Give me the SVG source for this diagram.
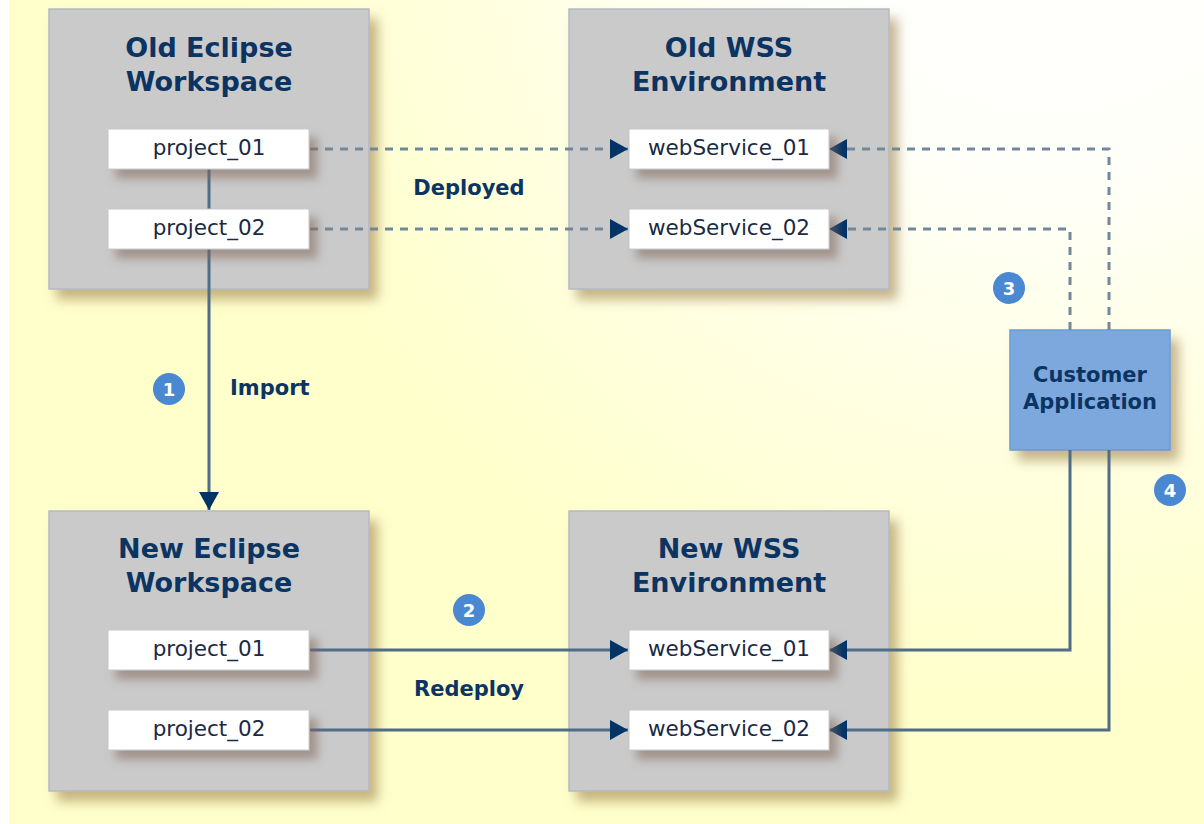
<svg xmlns="http://www.w3.org/2000/svg" width="1204" height="824" viewBox="0 0 1204 824">
<defs>
<radialGradient id="bg" gradientUnits="userSpaceOnUse" cx="1050" cy="-120" r="820">
<stop offset="0" stop-color="#ffffff"/>
<stop offset="0.35" stop-color="#fffffa"/>
<stop offset="0.7" stop-color="#ffffe0"/>
<stop offset="1" stop-color="#ffffcc"/>
</radialGradient>
<filter id="sh" x="-10%" y="-10%" width="130%" height="130%">
<feDropShadow dx="8" dy="10" stdDeviation="6" flood-color="#a08450" flood-opacity="0.6"/>
</filter>
<filter id="shs" x="-20%" y="-30%" width="150%" height="190%">
<feDropShadow dx="8" dy="9" stdDeviation="5" flood-color="#806858" flood-opacity="0.55"/>
</filter>
<marker id="ah" viewBox="0 0 18 20" refX="18" refY="10" markerWidth="18" markerHeight="20" markerUnits="userSpaceOnUse" orient="auto">
<path d="M0,0 L18,10 L0,20 Z" fill="#003366"/>
</marker>
<style>
.box{fill:#cacaca;stroke:#b4bac2;stroke-width:1.5}
.item{fill:#ffffff;stroke:#c4c8cc;stroke-width:1}
.title{font-family:"DejaVu Sans",Verdana,sans-serif;font-weight:bold;font-size:27px;fill:#0c3462;text-anchor:middle}
.lbl{font-family:"DejaVu Sans",Verdana,sans-serif;font-size:21.5px;fill:#1a2a44;text-anchor:middle}
.bl{font-family:"DejaVu Sans",Verdana,sans-serif;font-weight:bold;font-size:21px;fill:#0c3462}
.dash{fill:none;stroke:#72889a;stroke-width:3;stroke-dasharray:8 7}
.solid{fill:none;stroke:#4f6d86;stroke-width:3}
.num{fill:#4a88d2}
.numt{font-family:"DejaVu Sans",Verdana,sans-serif;font-weight:bold;font-size:18px;fill:#ffffff;text-anchor:middle}
</style>
</defs>
<rect x="0" y="0" width="1204" height="824" fill="#ffffff"/>
<rect x="9" y="0" width="1195" height="824" fill="url(#bg)"/>

<g id="old-eclipse">
<rect class="box" x="49" y="9" width="320" height="280" filter="url(#sh)"/>
<text class="title" x="209" y="57">Old Eclipse</text>
<text class="title" x="209" y="91">Workspace</text>
</g>
<g id="old-wss">
<rect class="box" x="569" y="9" width="320" height="280" filter="url(#sh)"/>
<text class="title" x="729" y="57">Old WSS</text>
<text class="title" x="729" y="91">Environment</text>
</g>
<g id="new-eclipse">
<rect class="box" x="49" y="511" width="320" height="280" filter="url(#sh)"/>
<text class="title" x="209" y="558">New Eclipse</text>
<text class="title" x="209" y="592">Workspace</text>
</g>
<g id="new-wss">
<rect class="box" x="569" y="511" width="320" height="280" filter="url(#sh)"/>
<text class="title" x="729" y="558">New WSS</text>
<text class="title" x="729" y="592">Environment</text>
</g>
<g id="customer-app">
<rect x="1010" y="330" width="160" height="120" fill="#7ca8dd" stroke="#6c9ad4" stroke-width="1.5" filter="url(#sh)"/>
<text class="bl" x="1090" y="382" text-anchor="middle">Customer</text>
<text class="bl" x="1090" y="409" text-anchor="middle">Application</text>
</g>

<g id="connectors">
<path class="solid" d="M209,169 V209"/>
<path class="solid" d="M209,249 V510" marker-end="url(#ah)"/>
<path class="dash" d="M310,149 H628" marker-end="url(#ah)"/>
<path class="dash" d="M310,229 H628" marker-end="url(#ah)"/>
<path class="dash" d="M1109,330 V149 H829" marker-end="url(#ah)"/>
<path class="dash" d="M1070,330 V229 H829" marker-end="url(#ah)"/>
<path class="solid" d="M310,650 H628" marker-end="url(#ah)"/>
<path class="solid" d="M310,730 H628" marker-end="url(#ah)"/>
<path class="solid" d="M1070,450 V650 H829" marker-end="url(#ah)"/>
<path class="solid" d="M1109,450 V730 H829" marker-end="url(#ah)"/>
</g>

<g id="old-project_01">
<rect class="item" x="108" y="129" width="201" height="40" filter="url(#shs)"/>
<text class="lbl" x="209" y="155">project_01</text>
</g>
<g id="old-project_02">
<rect class="item" x="108" y="209" width="201" height="40" filter="url(#shs)"/>
<text class="lbl" x="209" y="235">project_02</text>
</g>
<g id="old-ws01">
<rect class="item" x="629" y="129" width="200" height="40" filter="url(#shs)"/>
<text class="lbl" x="729" y="155">webService_01</text>
</g>
<g id="old-ws02">
<rect class="item" x="629" y="209" width="200" height="40" filter="url(#shs)"/>
<text class="lbl" x="729" y="235">webService_02</text>
</g>
<g id="new-project_01">
<rect class="item" x="108" y="630" width="201" height="40" filter="url(#shs)"/>
<text class="lbl" x="209" y="656">project_01</text>
</g>
<g id="new-project_02">
<rect class="item" x="108" y="710" width="201" height="40" filter="url(#shs)"/>
<text class="lbl" x="209" y="736">project_02</text>
</g>
<g id="new-ws01">
<rect class="item" x="629" y="630" width="200" height="40" filter="url(#shs)"/>
<text class="lbl" x="729" y="656">webService_01</text>
</g>
<g id="new-ws02">
<rect class="item" x="629" y="710" width="200" height="40" filter="url(#shs)"/>
<text class="lbl" x="729" y="736">webService_02</text>
</g>

<g id="labels">
<text class="bl" x="469" y="195" text-anchor="middle">Deployed</text>
<text class="bl" x="230" y="395">Import</text>
<text class="bl" x="469" y="696" text-anchor="middle">Redeploy</text>
</g>

<g id="step-1"><circle class="num" cx="169" cy="389" r="16"/><text class="numt" x="169" y="395.5">1</text></g>
<g id="step-2"><circle class="num" cx="469" cy="610" r="16"/><text class="numt" x="469" y="616.5">2</text></g>
<g id="step-3"><circle class="num" cx="1009" cy="288" r="16"/><text class="numt" x="1009" y="294.5">3</text></g>
<g id="step-4"><circle class="num" cx="1170" cy="490" r="16"/><text class="numt" x="1170" y="496.5">4</text></g>
</svg>
